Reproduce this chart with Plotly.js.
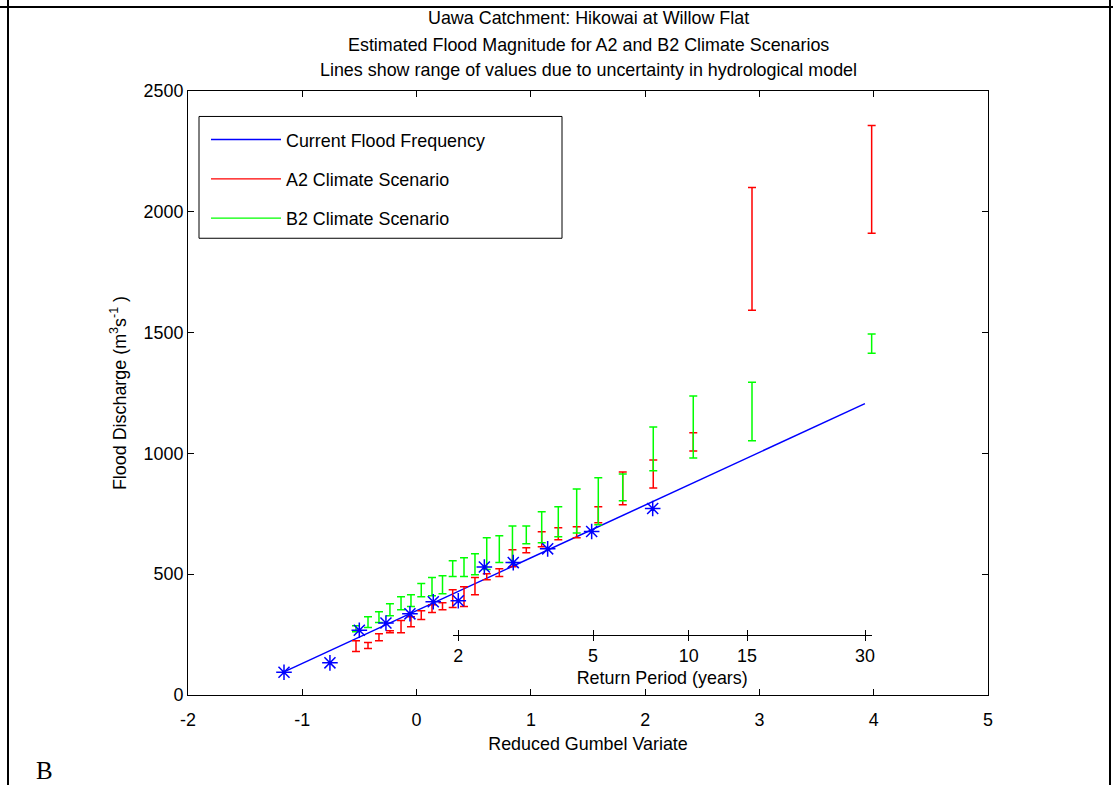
<!DOCTYPE html>
<html><head><meta charset="utf-8">
<script src="https://cdn.plot.ly/plotly-3.0.1.min.js"></script>
<style>
html,body{margin:0;padding:0;background:#fff;}
#wrap{position:relative;width:1113px;height:785px;overflow:hidden;}
#chart{position:absolute;left:0;top:0;width:1113px;height:785px;}
.hl{position:absolute;left:0;top:6px;width:1113px;height:2px;background:#000;}
.vl{position:absolute;top:0;width:2px;height:785px;background:#000;}
</style></head>
<body><div id="wrap"><div id="chart"></div><div class="hl"></div><div class="vl" style="left:7px"></div><div class="vl" style="left:1109px"></div></div>
<script>
// Observed annual maxima (reduced Gumbel variate, discharge)
const obsX = [-1.160, -0.758, -0.501, -0.268, -0.058, 0.146, 0.365, 0.593, 0.846, 1.147, 1.532, 2.066];
const obsQ = [94, 133, 268, 298, 336, 386, 390, 530, 548, 605, 677, 772];
// Current flood frequency fit
const fitX = [-1.16, 3.923];
const fitQ = [96, 1206];
// Scenario positions and ranges
const scenX = [-0.530,-0.425,-0.329,-0.233,-0.136,-0.049,0.041,0.135,0.227,0.316,0.415,0.511,0.614,0.724,0.839,0.960,1.095,1.240,1.401,1.590,1.804,2.071,2.421,2.935,3.982];
const a2Low  = [180,192,225,258,258,283,312,341,353,362,366,415,477,490,531,589,614,643,651,713,787,857,1010,1593,1911];
const a2High = [225,217,254,266,308,324,349,374,382,436,448,486,502,523,601,609,676,692,696,779,923,973,1085,2101,2357];
const b2Low  = [262,279,300,328,353,366,407,411,419,490,490,498,519,548,548,626,630,655,671,705,804,928,981,1052,1415];
const b2High = [287,324,345,378,407,415,461,486,494,556,568,585,651,659,700,700,758,779,853,899,915,1109,1238,1295,1494];
// Axis ticks
const xTickVals = [-2, -1, 0, 1, 2, 3, 4, 5];
const xTickLabels = ['-2', '-1', '0', '1', '2', '3', '4', '5'];
const yTickVals = [0, 500, 1000, 1500, 2000, 2500];
// Return period axis
const rpPos = [0.365, 1.544, 2.381, 2.891, 3.924];
const rpLabels = ['2','5','10','15','30'];

const FONT = 'Liberation Sans, Arial, Helvetica, sans-serif';
const FS = 17.9;

function rangeTrace(name, lo, hi, color) {
  const xs = [], ys = [], es = [];
  for (let i = 0; i < scenX.length; i++) {
    xs.push(scenX[i]); ys.push((lo[i] + hi[i]) / 2); es.push((hi[i] - lo[i]) / 2);
    xs.push(null); ys.push(null); es.push(0);
  }
  return {
    type: 'scatter', mode: 'lines', name: name, x: xs, y: ys,
    connectgaps: false, legendgroup: name,
    line: {color: color, width: 1.2},
    error_y: {type: 'data', array: es, visible: true, color: color, thickness: 1.5, width: 4},
    hoverinfo: 'skip'
  };
}

const traces = [
  {type: 'scatter', mode: 'lines', name: 'Current Flood Frequency', x: fitX, y: fitQ,
   line: {color: '#0000ff', width: 1.5}, legendgroup: 'c'},
  rangeTrace('A2 Climate Scenario', a2Low, a2High, '#ff0000'),
  rangeTrace('B2 Climate Scenario', b2Low, b2High, '#00ff00'),
  {type: 'scatter', mode: 'markers', x: obsX, y: obsQ, showlegend: false,
   marker: {symbol: 'asterisk-open', size: 13, color: '#0000ff', line: {color: '#0000ff', width: 1.5}}},
  {type: 'scatter', mode: 'markers', x: rpPos, y: rpPos.map(() => null), xaxis: 'x2', yaxis: 'y', showlegend: false, hoverinfo: 'skip'},
  {type: 'scatter', mode: 'markers', x: rpPos, y: rpPos.map(() => null), xaxis: 'x3', yaxis: 'y', showlegend: false, hoverinfo: 'skip'}
];

const axFont = {family: FONT, size: FS, color: '#000'};
const L = 188, R = 988, T = 90.5, B = 695.5;
const px2paperY = py => (B - py) / (B - T);
const px2paperX = px => (px - L) / (R - L);

const layout = {
  width: 1113, height: 785,
  margin: {l: L, r: 1113 - R, t: T, b: 785 - B, pad: 0},
  paper_bgcolor: '#fff', plot_bgcolor: 'rgba(0,0,0,0)',
  font: axFont,
  showlegend: true,
  legend: {
    x: px2paperX(206), y: px2paperY(121), xanchor: 'left', yanchor: 'top',
    borderwidth: 0, bgcolor: 'rgba(0,0,0,0)',
    font: axFont, itemwidth: 70, tracegroupgap: 13, traceorder: 'grouped'
  },
  shapes: [
    {type: 'rect', xref: 'paper', yref: 'paper', x0: px2paperX(199), x1: px2paperX(562), y0: px2paperY(238), y1: px2paperY(116),
     line: {color: '#000', width: 1}, fillcolor: 'rgba(0,0,0,0)', layer: 'above'}
  ],
  xaxis: {
    range: [-2, 5], tickvals: xTickVals, ticktext: xTickLabels, ticks: 'inside', ticklen: 6, tickcolor: '#000',
    showline: true, linecolor: '#000', linewidth: 1, mirror: 'ticks',
    showgrid: false, zeroline: false, tickfont: axFont, ticklabelstandoff: 9,
    title: {text: 'Reduced Gumbel Variate', font: axFont, standoff: 7}
  },
  yaxis: {
    range: [0, 2500], tickvals: yTickVals, ticks: 'inside', ticklen: 6, tickcolor: '#000',
    showline: true, linecolor: '#000', linewidth: 1, mirror: 'ticks',
    showgrid: false, zeroline: false, tickfont: axFont,
    title: {text: 'Flood Discharge (m<sup>3</sup>s<sup>-1</sup> )', font: axFont, standoff: 12}
  },
  xaxis2: {
    domain: [px2paperX(452.7), px2paperX(871.7)], range: [0.316, 3.982],
    anchor: 'free', position: px2paperY(635),
    tickvals: rpPos, ticktext: rpLabels, ticks: 'outside', ticklen: 5, tickcolor: '#000',
    showline: true, linecolor: '#000', linewidth: 1, showgrid: false, zeroline: false,
    tickfont: axFont, title: {text: 'Return Period (years)', font: axFont, standoff: 6}
  },
  xaxis3: {
    domain: [px2paperX(452.7), px2paperX(871.7)], range: [0.316, 3.982],
    anchor: 'free', position: px2paperY(635),
    tickvals: rpPos, ticks: 'inside', ticklen: 5, tickcolor: '#000',
    showline: false, showgrid: false, zeroline: false, showticklabels: false
  },
  annotations: [
    {text: 'Uawa Catchment: Hikowai at Willow Flat', xref: 'paper', yref: 'paper', x: 0.5, y: px2paperY(17), yanchor: 'middle', showarrow: false, font: axFont},
    {text: 'Estimated Flood Magnitude for A2 and B2 Climate Scenarios', xref: 'paper', yref: 'paper', x: 0.5, y: px2paperY(44), yanchor: 'middle', showarrow: false, font: axFont},
    {text: 'Lines show range of values due to uncertainty in hydrological model', xref: 'paper', yref: 'paper', x: 0.5, y: px2paperY(69), yanchor: 'middle', showarrow: false, font: axFont},
    {text: 'B', xref: 'paper', yref: 'paper', x: px2paperX(34), xanchor: 'left', y: px2paperY(771), yanchor: 'middle', showarrow: false,
     font: {family: 'Liberation Serif, Times New Roman, serif', size: 25, color: '#000'}}
  ]
};

Plotly.newPlot('chart', traces, layout, {staticPlot: true, displayModeBar: false});
</script>
</body></html>
